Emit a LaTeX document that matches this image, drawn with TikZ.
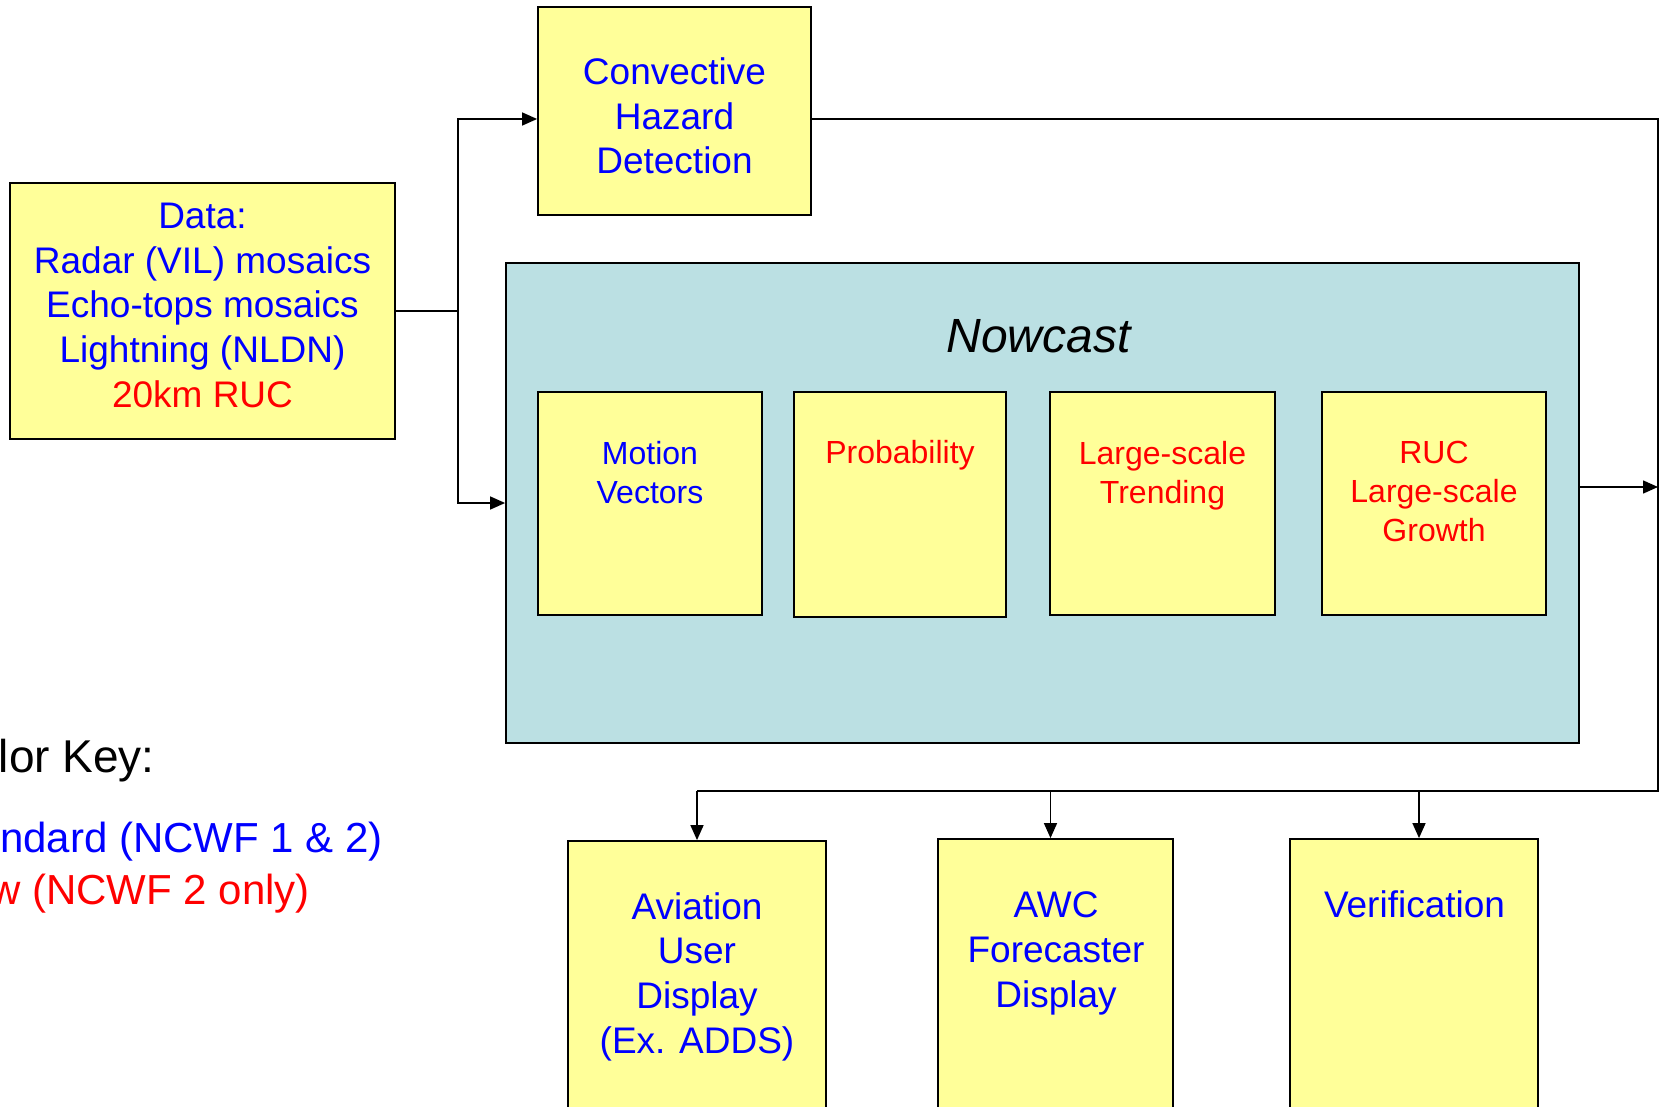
\documentclass[tikz,border=0pt]{standalone}
\usepackage{fontspec}
\setmainfont{Liberation Sans}
\usetikzlibrary{arrows.meta,positioning}
\definecolor{boxyellow}{RGB}{255,255,153}
\definecolor{nowteal}{RGB}{187,224,227}
\definecolor{txtblue}{RGB}{0,0,255}
\definecolor{txtred}{RGB}{255,0,0}

\begin{document}
\begin{tikzpicture}[
            x=1pt, y=-1pt,
            block/.style={rectangle, draw, line width=1.8pt, fill=boxyellow, inner sep=0pt},
            big/.style={font=\fontsize{37}{44.6}\selectfont, align=center, anchor=base, inner sep=0pt},
            small/.style={font=\fontsize{32}{39}\selectfont, align=center, anchor=base, inner sep=0pt},
            key/.style={anchor=base east, inner sep=0pt, font=\fontsize{42}{50}\selectfont},
            line/.style={line width=1.5pt},
            arrow/.style={line width=1.5pt, -{Triangle[length=15pt,width=13pt]}}
        ]

        \useasboundingbox (0,0) rectangle (1664,1107);

        % inputs (text nodes sit on the baseline of their last line)
        \node[block, minimum width=385pt, minimum height=256pt] (data) at (202.5,311) {};
        \node[big, text=txtblue] (datatext) at (202.5,407) {Data:\\Radar (VIL) mosaics\\Echo-tops mosaics\\Lightning (NLDN)\\\textcolor{txtred}{20km RUC}};

        \node[block, minimum width=273pt, minimum height=208pt] (chd) at (674.5,111) {};
        \node[big, text=txtblue] (chdtext) at (674.5,174) {Convective\\Hazard\\Detection};

        % nowcast
        \node[rectangle, draw, line width=1.8pt, fill=nowteal, minimum width=1073pt, minimum height=480pt] (now) at (1042.5,503) {};
        \node[anchor=base, inner sep=0pt, font=\fontsize{48}{58}\selectfont\itshape] (nowtitle) at (1038.5,352) {Nowcast};

        \node[block, minimum width=224pt, minimum height=223pt] (motion) at (650,503.5) {};
        \node[block, minimum width=212pt, minimum height=225pt] (prob) at (900,504.5) {};
        \node[block, minimum width=225pt, minimum height=223pt] (trend) at (1162.5,503.5) {};
        \node[block, minimum width=224pt, minimum height=223pt] (rucgrowth) at (1434,503.5) {};

        \node[small, text=txtblue] (motiontext) at (650,503) {Motion\\Vectors};
        \node[small, text=txtred] (probtext) at (900,463) {Probability};
        \node[small, text=txtred] (trendtext) at (1162.5,503) {Large-scale\\Trending};
        \node[small, text=txtred] (rucgrowthtext) at (1434,541) {RUC\\Large-scale\\Growth};

        % outputs
        \node[block, minimum width=258pt, minimum height=289pt] (av) at (697,985.5) {};
        \node[block, minimum width=235pt, minimum height=291pt] (awc) at (1055.5,984.5) {};
        \node[block, minimum width=248pt, minimum height=291pt] (verif) at (1414,984.5) {};

        \node[big, text=txtblue] (avtext) at (697,1053) {Aviation\\User\\Display\\(Ex. ADDS)};
        \node[big, text=txtblue] (awctext) at (1056,1007) {AWC\\Forecaster\\Display};
        \node[big, text=txtblue] (veriftext) at (1414.5,917) {Verification};

        % color key
        \node[key, font=\fontsize{46}{55}\selectfont] (keytitle) at (155,772) {lor Key:};
        \node[key, text=txtblue] (keystd) at (383,852) {ndard (NCWF 1 \& 2)};
        \node[key, text=txtred] (keynew) at (310,904) {w (NCWF 2 only)};

        % connectors
        \coordinate (split) at (458,311);
        \coordinate (ne) at (1658,119);
        \coordinate (se) at (1658,791);
        \coordinate (nowout) at ([yshift=16pt]now.east);
        \coordinate (awcin) at ([xshift=-5pt]awc.north);
        \coordinate (verifin) at ([xshift=5pt]verif.north);

        \draw[line] (data.east) -- (split);
        \draw[arrow] (split) |- ([yshift=-8pt]chd.west);
        \draw[arrow] (split) |- (now.west);

        \draw[line] ([yshift=-8pt]chd.east) -- (ne) -- (se) -- (av.north |- se);
        \draw[arrow] (nowout) -- (nowout -| ne);

        \draw[arrow] (av.north |- se) -- (av.north);
        \draw[arrow] (awcin |- se) -- (awcin);
        \draw[arrow] (verifin |- se) -- (verifin);

    \end{tikzpicture}
\end{document}
